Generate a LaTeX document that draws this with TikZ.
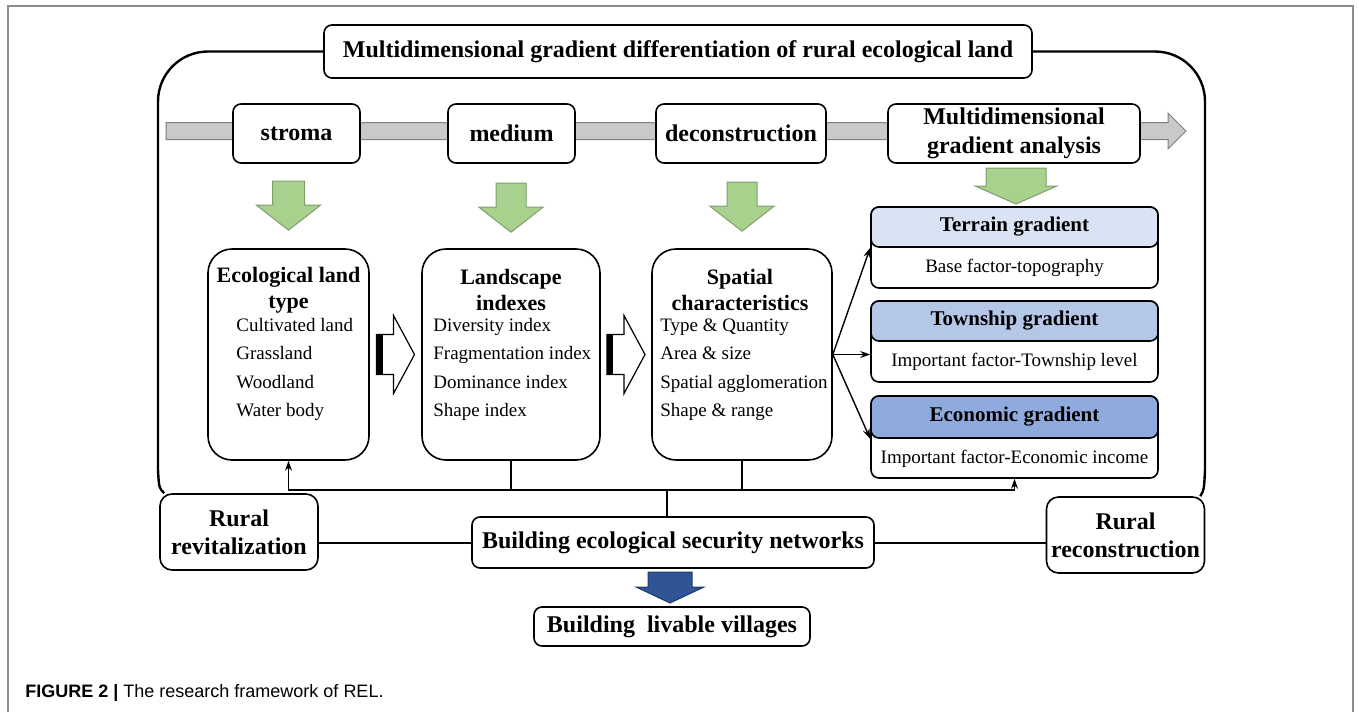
\documentclass[tikz,border=0pt]{standalone}
\usepackage{fontspec}
\setmainfont{Liberation Serif}
\newfontfamily\capfont{Liberation Sans}
\usepackage{xcolor}
\definecolor{greenfill}{HTML}{A9D18E}
\definecolor{greenline}{HTML}{7F9F6A}
\definecolor{bandfill}{HTML}{C9C9C9}
\definecolor{bandline}{HTML}{7F7F7F}
\definecolor{bluefill}{HTML}{2F5597}
\definecolor{blueline}{HTML}{1F3864}
\definecolor{terraincolor}{HTML}{DAE3F3}
\definecolor{townshipcolor}{HTML}{B4C7E7}
\definecolor{economiccolor}{HTML}{8FAADC}
\definecolor{framecolor}{HTML}{8C8C8C}
\usetikzlibrary{calc,arrows.meta}

\begin{document}
\begin{tikzpicture}[x=0.5pt, y=-0.5pt]

    \tikzset{%
        box/.style={draw, line width=0.8pt, rounded corners=4pt, fill=white, inner sep=0pt},
        stagebox/.style={box, minimum height=29.5pt, align=center, font=\bfseries\fontsize{12}{14.5}\selectfont},
        bigbox/.style={box, rounded corners=12pt, minimum height=105.5pt},
        boxtitle/.style={align=center, inner sep=0pt, font=\bfseries\fontsize{11}{13}\selectfont},
        itemlist/.style={align=left, inner sep=0pt, anchor=west, font=\fontsize{9.5}{14.25}\selectfont},
        gradbox/.style={box, minimum width=143.5pt, minimum height=40.5pt},
        headbox/.style={box, anchor=north, minimum width=143.5pt, minimum height=20pt, font=\bfseries\fontsize{10.5}{12}\selectfont},
        bodytext/.style={inner sep=0pt, font=\fontsize{9.5}{11}\selectfont},
        ruralbox/.style={box, rounded corners=6pt, minimum width=79pt, minimum height=38pt, align=center, font=\bfseries\fontsize{12}{14}\selectfont},
        conn/.style={line width=0.7pt},
        link/.style={conn, -{Stealth[length=5pt, width=3.5pt]}},
        loopline/.style={line width=1.2pt},
        greenarrow/.style={fill=greenfill, draw=greenline, line width=0.5pt},
        bluearrow/.style={fill=bluefill, draw=blueline, line width=0.5pt},
        band/.style={fill=bandfill, draw=bandline, line width=0.5pt},
        pics/downarrow/.style args={#1/#2/#3/#4/#5}{%
                code={%
                        \filldraw [#5] (-#1, 0) -- (#1, 0) -- (#1, #3) -- (#2, #3) -- (0, #3+#4) -- (-#2, #3) -- (-#1, #3) -- cycle;
                    }
            },
        pics/hollowarrow/.style={%
                code={%
                        \filldraw [fill=white, line width=0.6pt] (-19, -20) -- (-2, -20) -- (-2, -39) -- (19, 0) -- (-2, 39) -- (-2, 20) -- (-19, 20) -- cycle;
                        \fill (-19, -20) rectangle (-13, 20);
                    }
            }
    }

    \useasboundingbox (0, 0) rectangle (1359, 712);
    \draw [framecolor, line width=0.6pt] (8, 712) -- (8, 6) -- (1353, 6) -- (1353, 712);

    \node [box, minimum width=354pt, minimum height=26.5pt, font=\bfseries\fontsize{12}{14}\selectfont] (heading) at (678, 51.5) {Multidimensional gradient differentiation of rural ecological land};

    \filldraw [band] (166, 122.5) -- (1168, 122.5) -- (1168, 113) -- (1186, 131) -- (1168, 149) -- (1168, 139.5) -- (166, 139.5) -- cycle;

    \node [stagebox, minimum width=63.5pt] (stroma) at (296.5, 133.5) {stroma};
    \node [stagebox, minimum width=63.5pt] (medium) at (511.5, 133.5) {medium};
    \node [stagebox, minimum width=85pt] (deconstruction) at (741, 133.5) {deconstruction};
    \node [stagebox, minimum width=126pt] (analysis) at (1014, 133.5) {Multidimensional\\gradient analysis};

    \node [bigbox, minimum width=80.5pt] (ecoland) at (288.5, 354.5) {};
    \node [bigbox, minimum width=89pt] (landscape) at (511, 354.5) {};
    \node [bigbox, minimum width=90pt] (spatial) at (742, 354.5) {};

    \node [boxtitle] (ecolandtitle) at (288.5, 290) {Ecological land\\type};
    \node [boxtitle] (landscapetitle) at (511, 290) {Landscape\\indexes};
    \node [boxtitle] (spatialtitle) at (740, 290) {Spatial\\characteristics};
    \node [itemlist] (ecolanditems) at (236, 369.5) {Cultivated land\\Grassland\\Woodland\\Water body};
    \node [itemlist] (landscapeitems) at (433, 369.5) {Diversity index\\Fragmentation index\\Dominance index\\Shape index};
    \node [itemlist] (spatialitems) at (660, 369.5) {Type \& Quantity\\Area \& size\\Spatial agglomeration\\Shape \& range};

    \pic at ($(ecoland.north)+(0, -67)$) {downarrow=16/32/24/25/greenarrow};
    \pic at ($(landscape.north)+(0, -65)$) {downarrow=15/32/24/25/greenarrow};
    \pic at ($(spatial.north)+(0, -66)$) {downarrow=15/32/24/25/greenarrow};
    \pic at (1016, 168) {downarrow=30/41/18/18/greenarrow};

    \pic at ($(ecoland.east)!0.5!(landscape.west)$) {hollowarrow};
    \pic at ($(landscape.east)!0.5!(spatial.west)$) {hollowarrow};

    \node [gradbox] (terrain) at (1014.5, 247.5) {};
    \node [headbox, fill=terraincolor] (terrainhead) at (terrain.north) {Terrain gradient};
    \node [bodytext] (terrainbody) at (1014.5, 267.5) {Base factor-topography};
    \node [gradbox] (township) at (1014.5, 341.5) {};
    \node [headbox, fill=townshipcolor] (townshiphead) at (township.north) {Township gradient};
    \node [bodytext] (townshipbody) at (1014.5, 362) {Important factor-Township level};
    \node [gradbox, minimum height=41pt] (economic) at (1014.5, 437) {};
    \node [headbox, fill=economiccolor, minimum height=21pt] (economichead) at (economic.north) {Economic gradient};
    \node [bodytext] (economicbody) at (1014.5, 459) {Important factor-Economic income};

    \draw [link] (spatial.east) -- (terrainhead.south west);
    \draw [link] (spatial.east) -- (spatial.east -| township.west);
    \draw [link] (spatial.east) -- (economichead.south west);

    \node [ruralbox] (revitalization) at (239, 532) {Rural\\revitalization};
    \node [ruralbox] (reconstruction) at (1125.5, 535) {Rural\\reconstruction};
    \node [box, minimum width=201pt, minimum height=25.5pt, font=\bfseries\fontsize{12}{14}\selectfont] (secnet) at (673, 542.5) {Building ecological security networks};
    \node [box, minimum width=138pt, minimum height=19.5pt, font=\bfseries\fontsize{12}{14}\selectfont] (villages) at (672, 626.5) {Building~ livable villages};
    \pic at (670, 572) {downarrow=22/34/15/16/bluearrow};

    \coordinate (bus) at (0, 490);
    \draw [link] (landscape.south) |- (bus -| ecoland.south) -- (ecoland.south);
    \draw [link] (spatial.south) |- (bus -| economic.south) -- (economic.south);
    \draw [conn] (landscape.south |- bus) -- (spatial.south |- bus);
    \draw [conn] ([xshift=-3pt]secnet.north) -- ([xshift=-3pt]secnet.north |- bus);

    \draw [conn, line width=1pt] (secnet.west) -- (secnet.west -| revitalization.east);
    \draw [conn, line width=1pt] (secnet.east) -- (secnet.east -| reconstruction.west);

    \coordinate (loopleft) at (158, 470);
    \coordinate (loopright) at (1205, 470);
    \draw [loopline, rounded corners=25pt] (loopleft) |- (heading.west);
    \draw [loopline, rounded corners=25pt] (heading.east) -| (loopright);
    \draw [loopline] ([xshift=2.5pt]revitalization.north west) .. controls (159, 488) .. (loopleft);
    \draw [loopline] ([xshift=-2.5pt]reconstruction.north east) .. controls (1204, 490) .. (loopright);

    \node [anchor=west, inner sep=0pt, font=\capfont\fontsize{9}{11}\selectfont] (caption) at (25, 693) {\textbf{FIGURE 2 |} The research framework of REL.};

\end{tikzpicture}
\end{document}
